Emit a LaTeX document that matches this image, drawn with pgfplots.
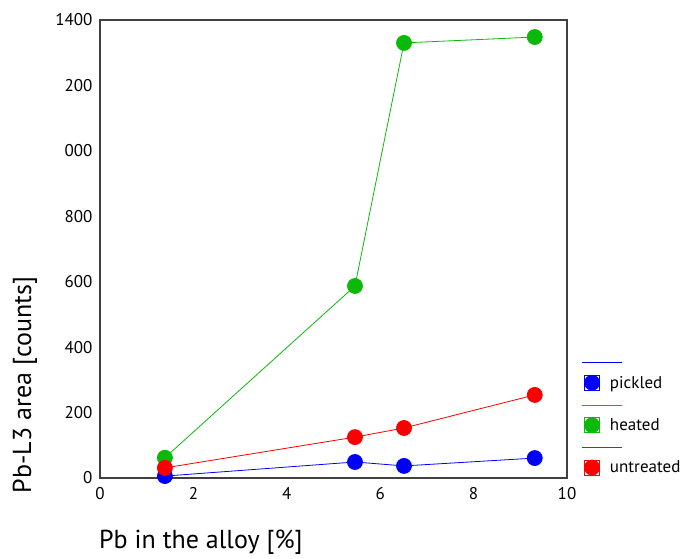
\documentclass[border=0pt]{standalone}
\usepackage{fontspec}
\setmainfont{PT Sans}
\usepackage{pgfplots}
\pgfplotsset{compat=1.18}

\definecolor{cblue}{RGB}{0,0,250}
\definecolor{cgreen}{RGB}{10,185,10}
\definecolor{cred}{RGB}{250,0,0}

% legend glyph: short line above, dot below
\newcommand\legimg[1]{%
  \path[use as bounding box] (-7.5bp,-7.5bp) rectangle (7.5bp,7.5bp);
  \fill[#1] (0bp,0bp) circle (7.5bp);
  \draw[#1,line width=0.8pt] (-10bp,20bp) -- (30bp,20bp);
}

\begin{document}
\begin{tikzpicture}
\begin{axis}[
  scale only axis,width=467bp,height=458bp,
  xmin=0,xmax=10,ymin=0,ymax=1400,
  xtick={0,2,...,10},
  ytick={0,200,...,1400},
  yticklabels={0,200,400,600,800,000,200,1400},
  major tick length=0pt,
  axis line style={draw=black!75,line width=1.2pt},
  tick label style={font=\fontsize{17bp}{19bp}\selectfont},
  /pgf/number format/assume math mode=true,
  xticklabel style={yshift=-6bp},
  yticklabel style={xshift=-4bp},
  xlabel={Pb in the alloy [\%]},
  ylabel={Pb-L3 area [counts]},
  label style={font=\fontsize{26bp}{28bp}\selectfont},
  xlabel style={at={(axis description cs:0.216,-0.141)},anchor=center},
  ylabel style={at={(axis description cs:-0.161,0.203)},anchor=center},
  clip=false,
  every axis plot/.append style={line width=0.8pt,mark=*,mark size=7.5bp},
  legend cell align=left,
  legend style={draw=none,fill=none,inner sep=0pt,
    font=\fontsize{17bp}{19bp}\selectfont,
    row sep=25bp,column sep=8bp,
    at={(axis description cs:1.0364,0.2276)},anchor=north west},
]
\path (rel axis cs:-0.2141,-0.1725) rectangle (rel axis cs:1.2591,1.0437);
\addplot[color=cblue,mark options={fill=cblue,draw=cblue},
  legend image code/.code={\legimg{cblue}}]
  coordinates {(1.39,6) (5.46,49) (6.51,37) (9.31,61)};
\addplot[color=cgreen,mark options={fill=cgreen,draw=cgreen},
  legend image code/.code={\legimg{cgreen}}]
  coordinates {(1.39,62) (5.46,587) (6.51,1330) (9.31,1348)};
\addplot[color=cred,mark options={fill=cred,draw=cred},
  legend image code/.code={\legimg{cred}}]
  coordinates {(1.39,31) (5.46,125) (6.51,153) (9.31,254)};
\legend{pickled,heated,untreated}
\end{axis}
\end{tikzpicture}
\end{document}
